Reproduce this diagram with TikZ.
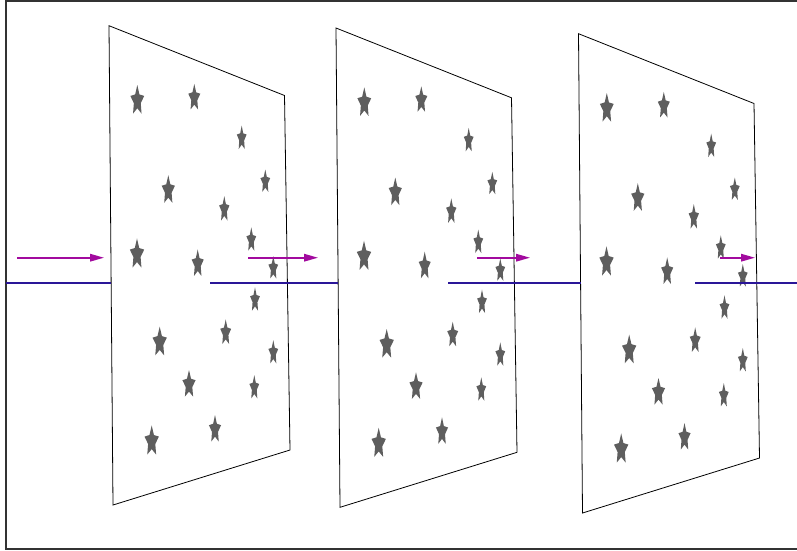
\documentclass[tikz,border=0pt]{standalone}
\usetikzlibrary{arrows.meta}
\definecolor{framecol}{HTML}{333333}
\definecolor{raycol}{RGB}{42,22,152}
\definecolor{arrcol}{RGB}{162,10,158}
\definecolor{starcol}{HTML}{5E5E5E}
\newcommand{\mystar}[4]{%
  \begin{scope}[shift={(#1,#2)},xscale=1.15*#3/1.902,yscale=1.04*#4/1.809,shift={(0,0.0955)}]
    \fill[starcol] (270:1) -- (306:0.5) -- (342:1) -- (18:0.5) -- (54:1) -- (90:0.47)
      -- (126:1) -- (162:0.5) -- (198:1) -- (234:0.5) -- cycle;
  \end{scope}}
\newcommand{\myplane}[2]{%
  \begin{scope}[shift={(#1,#2)}]
    \draw[planeedge] (109,25.7) -- (284.5,95.5) -- (290,450) -- (113,505) -- cycle;
    \mystar{137.3}{99.3}{12}{27.5}
    \mystar{194.3}{96.7}{10.5}{24.5}
    \mystar{241.7}{137.3}{8.5}{22.5}
    \mystar{168.3}{189}{11.5}{26.5}
    \mystar{265.3}{180.7}{8.5}{21.5}
    \mystar{224.3}{208.3}{9}{23.5}
    \mystar{251.3}{239}{8.5}{22.5}
    \mystar{137}{253}{12.5}{28}
    \mystar{197.7}{262.7}{10.5}{25.5}
    \mystar{273.3}{267.3}{8.5}{21.5}
    \mystar{255}{299}{8.5}{22.5}
    \mystar{225.7}{331.7}{9.5}{23.5}
    \mystar{159.7}{341}{12.5}{27.5}
    \mystar{273.3}{351.7}{8.5}{22.5}
    \mystar{189}{383.3}{11.5}{25.5}
    \mystar{254.3}{386.7}{8.5}{22.5}
    \mystar{215}{428.3}{10.5}{25.5}
    \mystar{151.7}{440}{12.5}{28}
  \end{scope}}
\begin{document}
\begin{tikzpicture}[x=1pt,y=-1pt,
  planeedge/.style={draw=black,line width=0.8pt,line join=miter},
  ray/.style={draw=raycol,line width=1.5pt},
  flow/.style={draw=arrcol,line width=1.6pt,-{Triangle[length=14pt,width=7.5pt]}},
  frameline/.style={draw=framecol,line width=1.2pt}]
\useasboundingbox (0,0) rectangle (797,550);
\draw[frameline] (797,1) -- (6,1) -- (6,549) -- (797,549);
% planes
\myplane{0}{0}
\myplane{227}{2.3}
\myplane{469.5}{8}
% rays
\coordinate (r1a) at (6,283);   \coordinate (r1b) at (111,283);
\coordinate (r2a) at (210,283); \coordinate (r2b) at (338,283);
\coordinate (r3a) at (448,283); \coordinate (r3b) at (580.6,283);
\coordinate (r4a) at (695,283); \coordinate (r4b) at (797,283);
\draw[ray] (r1a) -- (r1b);
\draw[ray] (r2a) -- (r2b);
\draw[ray] (r3a) -- (r3b);
\draw[ray] (r4a) -- (r4b);
% arrows
\coordinate (a1a) at (17,257.7);  \coordinate (a1b) at (104,257.7);
\coordinate (a2a) at (248,257.7); \coordinate (a2b) at (318,257.7);
\coordinate (a3a) at (477,257.7); \coordinate (a3b) at (530,257.7);
\coordinate (a4a) at (720,257.7); \coordinate (a4b) at (755,257.7);
\draw[flow] (a1a) -- (a1b);
\draw[flow] (a2a) -- (a2b);
\draw[flow] (a3a) -- (a3b);
\draw[flow] (a4a) -- (a4b);
\end{tikzpicture}
\end{document}
